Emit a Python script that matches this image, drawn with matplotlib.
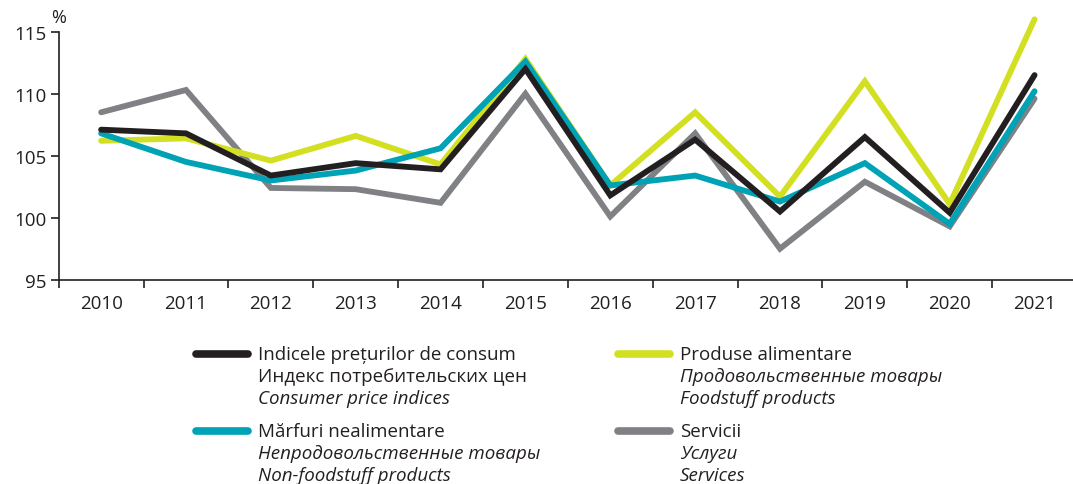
import numpy as np
import matplotlib
matplotlib.use("Agg")
import matplotlib.pyplot as plt
from matplotlib.lines import Line2D

plt.rcParams['font.family'] = ['Open Sans', 'DejaVu Sans']

years = [2010, 2011, 2012, 2013, 2014, 2015, 2016, 2017, 2018, 2019, 2020, 2021]
cpi = [107.1, 106.8, 103.4, 104.4, 103.9, 112.0, 101.8, 106.3, 100.5, 106.5, 100.4, 111.5]
food = [106.2, 106.4, 104.6, 106.6, 104.3, 112.8, 102.6, 108.5, 101.7, 111.0, 101.1, 116.0]
nonfood = [106.8, 104.5, 103.0, 103.8, 105.6, 112.6, 102.6, 103.4, 101.3, 104.4, 99.5, 110.2]
services = [108.5, 110.3, 102.4, 102.3, 101.2, 110.0, 100.1, 106.8, 97.5, 102.9, 99.3, 109.6]

c_cpi = '#231f20'
c_food = '#d3e021'
c_nonfood = '#00a2b5'
c_serv = '#808184'

W, H = 1073, 485
fig = plt.figure(figsize=(W / 100, H / 100), dpi=100)
ax = fig.add_axes([58.7 / W, 1 - 280.7 / H, (1077 - 58.7) / W, (280.7 - 32.7) / H])

x = np.arange(len(years))
lw = 4.2
for serie, col in [(services, c_serv), (food, c_food), (nonfood, c_nonfood), (cpi, c_cpi)]:
    ax.plot(x, serie, color=col, lw=lw, solid_capstyle='round', solid_joinstyle='miter', clip_on=False)

ax.set_xlim(-0.5, 11.5)
ax.set_ylim(95, 115)
ax.set_yticks([95, 100, 105, 110, 115])
ax.set_xticks(x)
ax.set_xticklabels([str(y) for y in years])
ax.set_xticks(np.arange(-0.5, 12, 1), minor=True)
ax.tick_params(axis='x', which='major', length=0, pad=10, labelsize=13.5, colors='#231f20')
ax.tick_params(axis='x', which='minor', length=6, width=1.2, direction='out', color='#231f20')
ax.tick_params(axis='y', length=6, width=1.2, direction='out', labelsize=13.5, pad=3, colors='#231f20')
for s in ['top', 'right']:
    ax.spines[s].set_visible(False)
for s in ['left', 'bottom']:
    ax.spines[s].set_linewidth(1.2)
    ax.spines[s].set_color('#231f20')

fig.text(51 / W, 1 - 18 / H, '%', fontsize=13, color='#231f20', va='center', ha='left')

# legenda
entries = [
    (c_cpi, 196, 258, 355, ['Indicele prețurilor de consum', 'Индекс потребительских цен', 'Consumer price indices'],
     ['normal', 'normal', 'italic']),
    (c_nonfood, 196, 258, 432, ['Mărfuri nealimentare', 'Непродовольственные товары', 'Non-foodstuff products'],
     ['normal', 'italic', 'italic']),
    (c_food, 618, 680, 355, ['Produse alimentare', 'Продовольственные товары', 'Foodstuff products'],
     ['normal', 'italic', 'italic']),
    (c_serv, 618, 680, 432, ['Servicii', 'Услуги', 'Services'],
     ['normal', 'italic', 'italic']),
]
for col, hx, tx, ty, lines, styles in entries:
    fig.add_artist(Line2D([hx / W, (hx + 52) / W], [1 - ty / H, 1 - ty / H], color=col, lw=5.5,
                          solid_capstyle='round', transform=fig.transFigure))
    for i, (t, st) in enumerate(zip(lines, styles)):
        fig.text(tx / W, 1 - (ty + 22 * i) / H, t, fontsize=13.5, style=st, color='#231f20',
                 va='center', ha='left')

fig.savefig('out.png', dpi=100)
